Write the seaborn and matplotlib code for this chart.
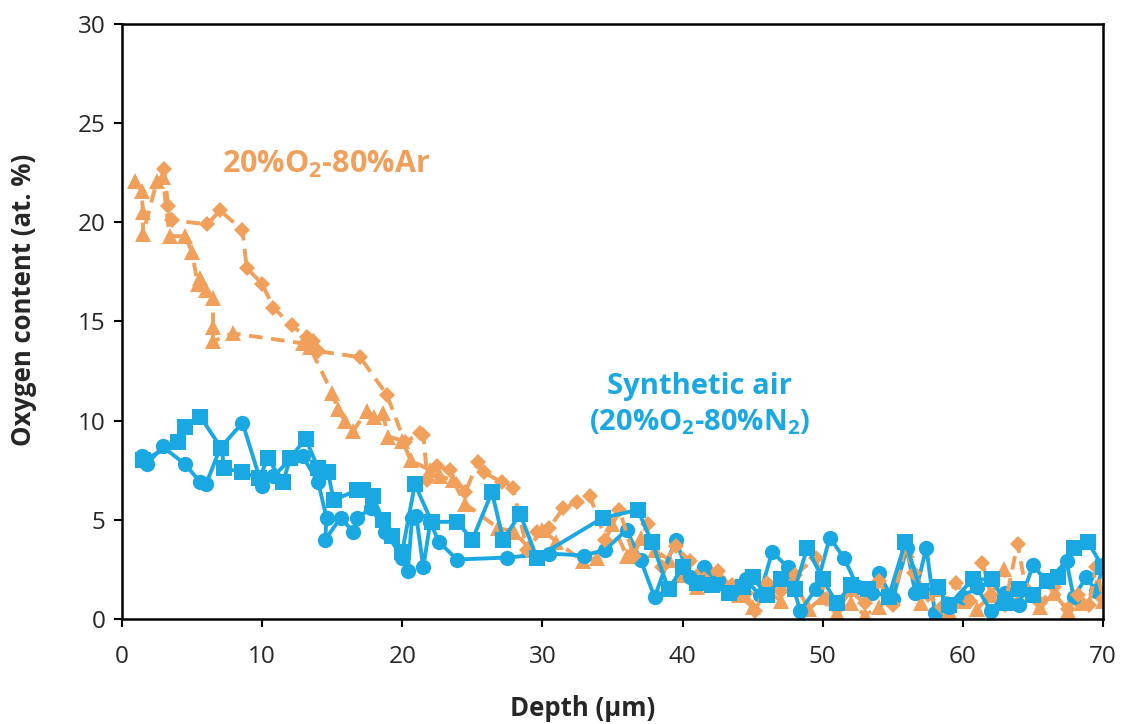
import numpy as np
import pandas as pd
import matplotlib
matplotlib.use("Agg")
import matplotlib.pyplot as plt
import seaborn as sns

# ---------------- data ----------------
ar_tri_x = [0.9, 1.4, 1.5, 1.5, 2.5, 2.9, 3.4, 4.5, 5.0, 5.4, 5.6, 6.0, 6.5, 6.5, 6.5, 7.9, 12.9, 13.4,
            15.0, 15.4, 15.9, 16.5, 17.5, 18.0, 18.6, 19.0, 20.0, 20.6, 22.0, 22.7, 23.6, 24.5, 26.8, 28.0,
            29.0, 30.0, 31.0, 32.9, 33.9, 35.0, 36.0, 37.0, 38.0, 39.0, 40.0, 41.0, 42.0, 43.0, 44.0, 45.0,
            46.0, 47.0, 48.0, 49.0, 50.0, 51.0, 52.0, 53.0, 54.0, 55.0, 56.0, 57.0, 58.0, 59.0, 60.0, 61.0,
            62.0, 62.9, 63.5, 64.5, 65.5, 66.5, 67.5, 68.5, 69.5, 70.0]
ar_tri_y = [22.1, 21.6, 20.5, 19.4, 22.1, 22.3, 19.3, 19.3, 18.5, 16.9, 17.2, 16.6, 16.2, 14.7, 14.0, 14.4, 13.9, 13.7,
            11.4, 10.6, 10.0, 9.5, 10.5, 10.2, 10.4, 9.2, 9.0, 8.0, 7.5, 7.2, 7.0, 5.8, 4.6, 4.4,
            3.6, 4.5, 3.9, 2.9, 3.1, 4.8, 3.2, 4.1, 3.5, 3.0, 2.2, 1.6, 2.4, 1.8, 1.2, 0.6,
            1.5, 0.9, 1.8, 0.5, 1.1, 0.3, 0.8, 0.2, 0.6, 1.2, 3.5, 0.8, 1.5, 0.4, 0.9, 0.5,
            1.2, 2.5, 0.8, 1.5, 0.6, 1.3, 0.4, 0.8, 1.6, 0.9]

ar_dia_x = [3.0, 3.3, 3.6, 6.1, 7.0, 8.6, 8.9, 10.0, 10.8, 12.1, 13.2, 13.6, 14.0, 17.0, 18.9, 20.2, 21.3, 21.5,
            21.8, 22.5, 23.4, 24.5, 25.4, 25.8, 27.1, 27.9, 28.9, 29.6, 30.5, 31.5, 32.5, 33.4, 34.5, 35.5,
            36.5, 37.5, 38.5, 39.5, 40.5, 41.5, 42.5, 43.5, 44.5, 45.2, 46.0, 47.0, 48.0, 49.5, 50.2, 51.0,
            52.0, 53.0, 54.0, 55.0, 55.9, 56.5, 57.5, 58.5, 59.5, 60.5, 61.4, 62.0, 63.0, 63.9, 64.5, 65.5,
            66.5, 67.5, 68.2, 69.0, 69.5, 70.0]
ar_dia_y = [22.7, 20.8, 20.1, 19.9, 20.6, 19.6, 17.7, 16.9, 15.7, 14.8, 14.2, 14.0, 13.5, 13.2, 11.3, 8.9, 9.4, 9.3,
            7.0, 7.7, 7.5, 6.4, 7.9, 7.4, 6.9, 6.6, 3.5, 4.4, 4.6, 5.6, 5.9, 6.2, 4.0, 5.5,
            3.2, 4.8, 2.6, 3.7, 2.9, 2.0, 2.4, 1.7, 1.3, 0.4, 1.8, 1.4, 2.2, 3.1, 1.0, 0.5,
            1.4, 0.8, 1.9, 0.7, 3.7, 2.3, 1.2, 0.6, 1.8, 0.9, 2.8, 1.2, 0.7, 3.8, 1.5, 0.8,
            1.6, 0.5, 1.2, 0.7, 2.6, 1.0]

air_cir_x = [1.4, 1.8, 2.9, 4.5, 5.6, 6.0, 7.0, 8.6, 10.0, 10.8, 12.1, 12.9, 14.0, 14.6, 14.5, 15.6, 16.5, 16.8,
             17.8, 18.8, 20.0, 20.4, 20.7, 21.0, 21.5, 22.0, 22.6, 23.9, 27.5, 30.5, 33.0, 34.5, 36.0, 37.0,
             38.0, 39.5, 40.5, 41.5, 42.5, 43.5, 44.5, 45.5, 46.4, 47.5, 48.4, 49.5, 50.5, 51.5, 52.5, 53.5,
             54.0, 55.0, 56.0, 56.6, 57.4, 58.0, 59.0, 60.0, 61.0, 62.0, 63.0, 64.0, 65.0, 66.0, 67.4, 67.9,
             68.8, 69.5, 70.0]
air_cir_y = [8.2, 7.8, 8.7, 7.8, 6.9, 6.8, 8.6, 9.9, 6.7, 7.2, 8.1, 8.2, 6.9, 5.1, 4.0, 5.1, 4.4, 5.1,
             5.6, 4.4, 3.1, 2.4, 5.1, 5.2, 2.6, 4.9, 3.9, 3.0, 3.1, 3.3, 3.2, 3.5, 4.5, 3.0,
             1.1, 4.0, 2.1, 2.6, 1.9, 1.4, 2.0, 1.2, 3.4, 2.6, 0.4, 1.5, 4.1, 3.1, 1.6, 1.3,
             2.3, 1.0, 3.6, 1.3, 3.6, 0.3, 0.6, 1.1, 1.6, 0.4, 1.3, 0.7, 2.7, 1.9, 2.9, 1.1,
             2.1, 1.4, 2.7]

air_sq_x = [1.5, 4.0, 4.5, 5.6, 7.1, 7.3, 8.6, 9.8, 10.4, 11.5, 12.0, 13.1, 14.0, 14.7, 15.1, 16.8, 17.2, 17.9,
            18.6, 19.3, 20.0, 20.9, 22.1, 23.9, 25.0, 26.4, 27.2, 28.4, 29.6, 34.3, 36.8, 37.8, 39.0, 40.0,
            41.0, 42.1, 43.3, 44.3, 45.0, 46.0, 47.0, 48.0, 48.9, 50.0, 51.0, 52.0, 53.2, 54.7, 55.9, 57.0,
            58.2, 59.0, 60.7, 62.1, 63.0, 64.0, 65.0, 66.0, 66.8, 67.9, 68.9, 70.0]
air_sq_y = [8.0, 8.9, 9.7, 10.2, 8.6, 7.6, 7.4, 7.1, 8.1, 6.9, 8.1, 9.1, 7.6, 7.4, 6.0, 6.5, 6.5, 6.2,
            5.0, 4.2, 3.4, 6.8, 4.9, 4.9, 4.0, 6.4, 4.0, 5.3, 3.1, 5.1, 5.5, 3.9, 1.5, 2.6,
            1.8, 1.7, 1.3, 1.6, 2.1, 1.2, 2.0, 1.5, 3.6, 2.0, 0.8, 1.7, 1.5, 1.1, 3.9, 1.4,
            1.6, 0.7, 2.0, 2.0, 0.8, 1.5, 1.2, 1.9, 2.1, 3.6, 3.9, 2.6]

x_ticks = [0, 10, 20, 30, 40, 50, 60, 70]
y_ticks = [0, 5, 10, 15, 20, 25, 30]
label_ar = "20%O$_2$-80%Ar"
label_air = "Synthetic air\n(20%O$_2$-80%N$_2$)"
x_label = "Depth (µm)"
y_label = "Oxygen content (at. %)"

# ---------------- style ----------------
sns.set_theme(style="white")
plt.rcParams["font.family"] = ["Open Sans", "DejaVu Sans"]
plt.rcParams["mathtext.fontset"] = "custom"
plt.rcParams["mathtext.rm"] = "Open Sans:bold"
plt.rcParams["mathtext.bf"] = "Open Sans:bold"
plt.rcParams["mathtext.default"] = "rm"

ORANGE = "#F0A05A"
BLUE = "#1AA8E2"

fig = plt.figure(figsize=(11.26, 7.24), dpi=100)
ax = fig.add_axes([0.1083, 0.145, 0.8713, 0.8219])

common = dict(sort=False, estimator=None, ax=ax, markeredgewidth=0, legend=False)
sns.lineplot(x=ar_tri_x, y=ar_tri_y, color=ORANGE, marker="^", markersize=11.5,
             linewidth=2.8, dashes=False, linestyle=(0, (3.5, 2.2)), **common)
sns.lineplot(x=air_cir_x, y=air_cir_y, color=BLUE, marker="o", markersize=11,
             linewidth=2.8, **common)
sns.lineplot(x=ar_dia_x, y=ar_dia_y, color=ORANGE, marker="D", markersize=8,
             linewidth=2.8, dashes=False, linestyle=(0, (3.5, 2.2)), **common)
sns.lineplot(x=air_sq_x, y=air_sq_y, color=BLUE, marker="s", markersize=11,
             linewidth=2.8, **common)

ax.set_xlim(0, 70)
ax.set_ylim(0, 30)
ax.set_xticks(x_ticks)
ax.set_yticks(y_ticks)
ax.tick_params(axis="both", which="major", labelsize=17.5, direction="out",
               length=6, width=1.5, color="black", left=True, bottom=True)
ax.tick_params(axis="x", pad=13)
ax.tick_params(axis="y", pad=6)
for s in ax.spines.values():
    s.set_visible(True)
    s.set_color("black")
    s.set_linewidth(1.8)
ax.grid(False)

ax.set_xlabel(x_label, fontsize=18.5, fontweight="bold")
ax.set_ylabel(y_label, fontsize=18.5, fontweight="bold")
ax.xaxis.set_label_coords(0.47, -0.128)
ax.yaxis.set_label_coords(-0.087, 0.536)

ax.text(14.6, 22.9, label_ar, color=ORANGE, fontsize=22, fontweight="bold",
        ha="center", va="center")
ax.text(41.2, 10.8, label_air, color=BLUE, fontsize=21, fontweight="bold",
        ha="center", va="center", linespacing=1.3)

fig.savefig("out.png", dpi=100)
